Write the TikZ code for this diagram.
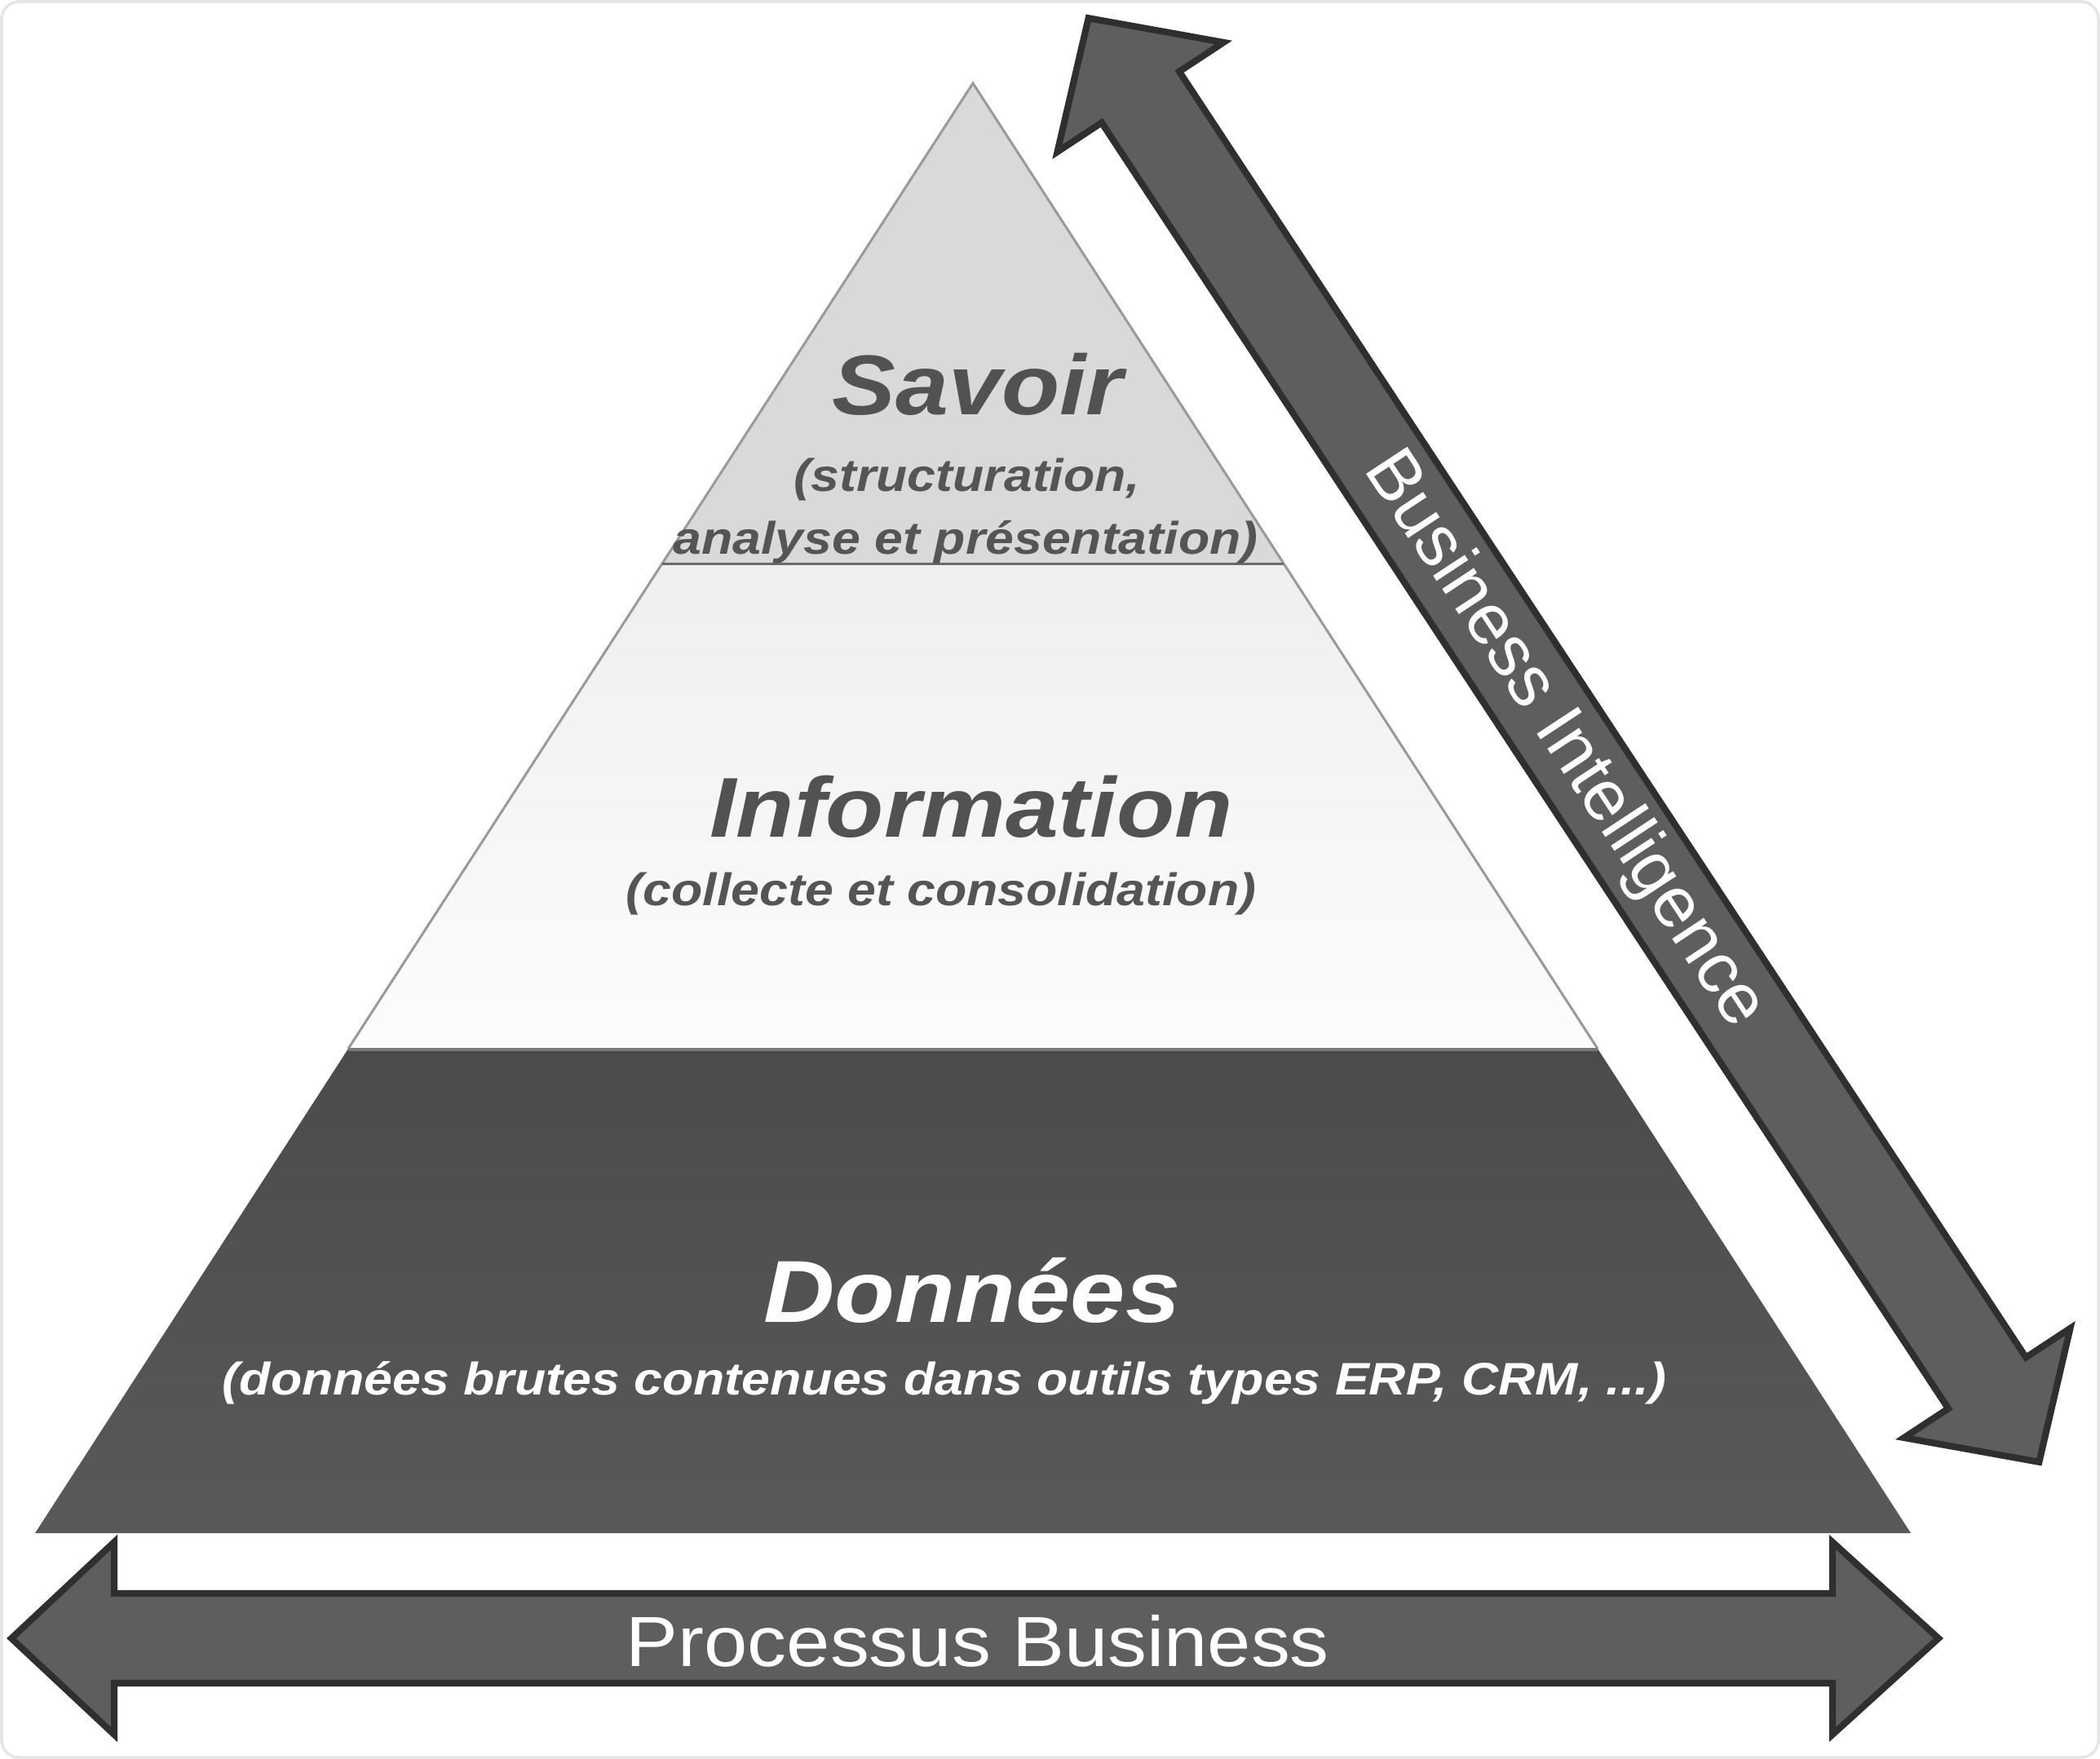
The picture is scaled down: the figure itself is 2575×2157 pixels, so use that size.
\documentclass[tikz,border=0pt]{standalone}
\usepackage{fontspec}
\setmainfont{Liberation Sans}
\usetikzlibrary{calc}
\definecolor{savoirfill}{HTML}{D9D9D9}
\definecolor{infotop}{HTML}{EFEFEF}
\definecolor{infobot}{HTML}{FCFCFC}
\definecolor{dontop}{HTML}{4B4B4B}
\definecolor{donmid}{HTML}{5F5F5F}
\definecolor{donbot}{HTML}{595959}
\definecolor{bandline}{HTML}{9A9A9A}
\definecolor{sepline}{HTML}{6A6A6A}
\definecolor{donedge}{HTML}{7A7A7A}
\definecolor{arrowfill}{HTML}{5E5E5E}
\definecolor{arrowline}{HTML}{2F2F2F}
\definecolor{headgray}{HTML}{525252}
\definecolor{subgray}{HTML}{555555}
\definecolor{framegray}{HTML}{E6E6E6}
\begin{document}
\begin{tikzpicture}[x=0.01cm,y=-0.01cm,
  bandedge/.style={draw=bandline, line width=0.85pt, line join=miter},
  blockarrow/.style={fill=arrowfill, draw=arrowline, line width=2.3pt, line join=miter},
  headtxt/.style={font=\fontsize{29.6}{32}\selectfont\bfseries\itshape, text=headgray, inner sep=0pt, anchor=base},
  subtxt/.style={font=\fontsize{15.9}{18}\selectfont\bfseries\itshape, text=subgray, inner sep=0pt, anchor=base},
  arrowtxt/.style={font=\fontsize{25}{28}\selectfont, text=white, inner sep=0pt}]
\useasboundingbox (0,0) rectangle (2575,2157);
\fill[white] (0,0) rectangle (2575,2157);
\draw[framegray, line width=1pt, rounded corners=6] (2,2) rectangle (2573,2155);

% pyramid bands
\fill[savoirfill] (1193,102) -- (1574,691) -- (812,691) -- cycle;
\shade[top color=infotop, bottom color=infobot] (812,691) -- (1574,691) -- (1959,1286) -- (427,1286) -- cycle;
\shade[top color=dontop, middle color=donmid, bottom color=donbot] (427,1286) -- (1959,1286) -- (2343,1880) -- (43,1880) -- cycle;
\draw[bandedge] (427,1286) -- (812,691) -- (1193,102) -- (1574,691) -- (1959,1286);
\draw[sepline, line width=0.85pt] (812,691) -- (1574,691);
\draw[donedge, line width=1pt] (427,1287) -- (1959,1287);

% Business Intelligence arrow
\begin{scope}[shift={(1917.5,907.5)}, rotate=-56.64]
\draw[blockarrow] (-1060,0) -- (-944,-122) -- (-944,-57) -- (944,-57) -- (944,-122)
  -- (1060,0) -- (944,122) -- (944,57) -- (-944,57) -- (-944,122) -- cycle;
\end{scope}
\node[arrowtxt, rotate=-56.64] (bi) at (1917.5,907.5) {Business Intelligence};

% Processus Business arrow
\draw[blockarrow] (14,2009) -- (140,1891) -- (140,1954) -- (2247,1954) -- (2247,1891)
  -- (2377,2009) -- (2247,2127) -- (2247,2064) -- (140,2064) -- (140,2127) -- cycle;
\node[arrowtxt, font=\fontsize{24.75}{28}\selectfont, anchor=base] (pb) at (1199,2043) {\scalebox{1.1}[1]{Processus Business}};

% texts
\node[headtxt] (savoir) at (1199,508) {\scalebox{1.12}[1]{Savoir}};
\node[subtxt] (savoir1) at (1186,602) {\scalebox{1.12}[1]{(structuration,}};
\node[subtxt] (savoir2) at (1184,679) {\scalebox{1.12}[1]{analyse et présentation)}};
\node[headtxt] (info) at (1191,1026) {\scalebox{1.12}[1]{Information}};
\node[subtxt] (info1) at (1154,1110) {\scalebox{1.12}[1]{(collecte et consolidation)}};
\node[headtxt, text=white, font=\fontsize{30.7}{33}\selectfont\bfseries\itshape] (donnees) at (1192,1621) {\scalebox{1.12}[1]{Données}};
\node[subtxt, text=white] (donnees1) at (1158,1710) {\scalebox{1.12}[1]{(données brutes contenues dans outils types ERP, CRM, ...)}};
\end{tikzpicture}
\end{document}
